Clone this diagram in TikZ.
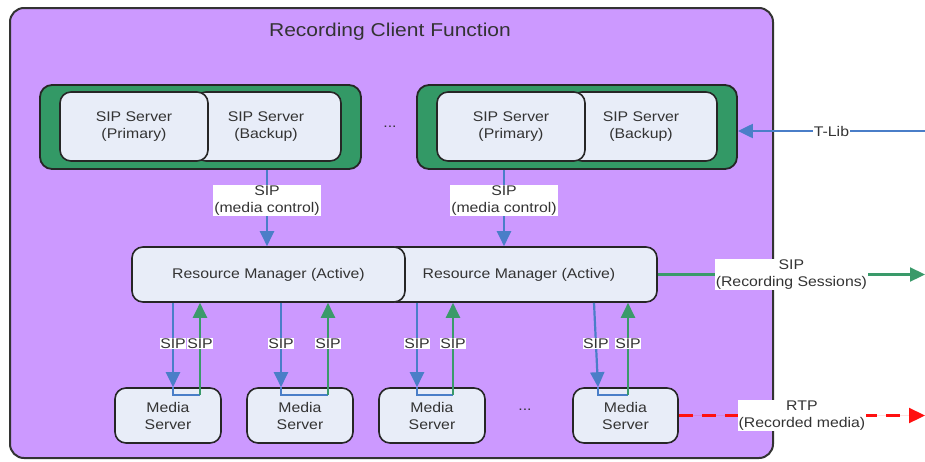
\documentclass[tikz,border=0pt]{standalone}
\usepackage{fontspec}
\setmainfont{Liberation Sans}[FakeStretch=1.13]
\usetikzlibrary{arrows.meta}
\definecolor{purp}{HTML}{CC99FF}
\definecolor{grp}{HTML}{339966}
\definecolor{boxf}{HTML}{E8EDF8}
\definecolor{bl}{HTML}{4A7EC8}
\definecolor{gr}{HTML}{3A9A6A}
\definecolor{rtpred}{HTML}{FF1010}
\definecolor{txt}{HTML}{333333}
\begin{document}
\begin{tikzpicture}[x=1pt,y=-1pt,
  every node/.style={font=\fontsize{14}{17}\selectfont, text=txt},
  outer/.style={draw=black!80, line width=2pt, fill=purp, rounded corners=14pt, inner sep=0pt},
  grpbox/.style={draw=black!85, line width=1.8pt, fill=grp, rounded corners=12pt, inner sep=0pt},
  srv/.style={draw=black!85, line width=1.6pt, fill=boxf, rounded corners=11pt, align=center, inner sep=0pt},
  lbl/.style={fill=white, inner sep=1pt, align=center},
  tipb/.style={-{Triangle[length=15pt,width=14pt]}},
  blline/.style={draw=bl, line width=2.2pt},
  grline/.style={draw=gr, line width=2.2pt},
  blarrow/.style={blline, tipb},
  grarrow/.style={grline, tipb},
  rtparrow/.style={draw=rtpred, fill=rtpred, line width=2.2pt, dash pattern=on 14pt off 9pt, -{Triangle[length=16pt,width=15pt]}}
]
\useasboundingbox (0,0) rectangle (925,461);

% outer function box
\node[outer, minimum width=763pt, minimum height=450pt] (rcf) at (391.5,233) {};
\node[font=\fontsize{18.6}{20}\selectfont] (title) at (390,32) {Recording Client Function};

% SIP server groups
\node[grpbox, minimum width=321pt, minimum height=84pt] (g1) at (200.5,127) {};
\node[srv, minimum width=146pt, minimum height=69pt] (bk1) at (268,126.5) {};
\node (bk1t) at (266,126.5) {\begin{tabular}{@{}c@{}}SIP Server\\(Backup)\end{tabular}};
\node[srv, minimum width=148pt, minimum height=69pt] (pr1) at (134,126.5) {SIP Server\\(Primary)};

\node (dots1) at (390,127) {...};

\node[grpbox, minimum width=320pt, minimum height=84pt] (g2) at (577,127) {};
\node[srv, minimum width=146pt, minimum height=69pt] (bk2) at (644,126.5) {};
\node (bk2t) at (641,126.5) {\begin{tabular}{@{}c@{}}SIP Server\\(Backup)\end{tabular}};
\node[srv, minimum width=148pt, minimum height=69pt] (pr2) at (511,126.5) {SIP Server\\(Primary)};

% resource managers
\node[srv, minimum width=272pt, minimum height=55pt] (rm2) at (521,274.5) {};
\node (rm2t) at (519,274.5) {Resource Manager (Active)};
\node[srv, minimum width=273pt, minimum height=55pt] (rm1) at (268.5,274.5) {Resource Manager (Active)};

% media servers
\node[srv, minimum width=106pt, minimum height=55pt] (ms1) at (168,415.5) {Media\\Server};
\node[srv, minimum width=106pt, minimum height=55pt] (ms2) at (300,415.5) {Media\\Server};
\node[srv, minimum width=106pt, minimum height=55pt] (ms3) at (432,415.5) {Media\\Server};
\node (dots2) at (525,410) {...};
\node[srv, minimum width=105pt, minimum height=55pt] (ms4) at (625.5,415.5) {Media\\Server};

% coordinates
\coordinate (x1) at (267,0);
\coordinate (x2) at (504,0);
\coordinate (tl) at (925,131);
\coordinate (rs) at (925,274.5);
\coordinate (rtp) at (925,415.5);
\coordinate (b1) at (173,0); \coordinate (g1x) at (200,0);
\coordinate (b2) at (281,0); \coordinate (g2x) at (328,0);
\coordinate (b3) at (417,0); \coordinate (g3x) at (453,0);
\coordinate (b4) at (594,0); \coordinate (b4e) at (598,0); \coordinate (g4x) at (628,0);
\coordinate (u1a) at (173,395); \coordinate (u1b) at (200,395);
\coordinate (u2a) at (281,395); \coordinate (u2b) at (328,395);
\coordinate (u3a) at (417,395); \coordinate (u3b) at (453,395);
\coordinate (u4a) at (598,395); \coordinate (u4b) at (628,395);

% T-Lib
\draw[blarrow] (tl) -- node[lbl] {T-Lib} (tl -| g2.east);

% media control
\draw[blarrow] (g1.south -| x1) -- node[lbl, pos=0.4] {SIP\\(media control)} (rm1.north -| x1);
\draw[blarrow] (g2.south -| x2) -- node[lbl, pos=0.4] {SIP\\(media control)} (rm2.north -| x2);

% recording sessions
\draw[grarrow] (rm2.east) -- node[lbl, pos=0.5] {SIP\\(Recording Sessions)} (rs);

% RTP
\draw[rtparrow] (ms4.east) -- node[lbl, pos=0.5] {RTP\\(Recorded media)} (rtp);

% RM <-> MS links
\draw[blarrow] (rm1.south -| b1) -- node[lbl, inner sep=0.5pt, pos=0.48] {SIP} (ms1.north -| b1);
\draw[blline] (ms1.north -| b1) -- (u1a) -- (u1b);
\draw[grarrow] (u1b) -- node[lbl, inner sep=0.5pt, pos=0.56] {SIP} (rm1.south -| g1x);

\draw[blarrow] (rm1.south -| b2) -- node[lbl, inner sep=0.5pt, pos=0.48] {SIP} (ms2.north -| b2);
\draw[blline] (ms2.north -| b2) -- (u2a) -- (u2b);
\draw[grarrow] (u2b) -- node[lbl, inner sep=0.5pt, pos=0.56] {SIP} (rm1.south -| g2x);

\draw[blarrow] (rm2.south -| b3) -- node[lbl, inner sep=0.5pt, pos=0.48] {SIP} (ms3.north -| b3);
\draw[blline] (ms3.north -| b3) -- (u3a) -- (u3b);
\draw[grarrow] (u3b) -- node[lbl, inner sep=0.5pt, pos=0.56] {SIP} (rm2.south -| g3x);

\draw[blarrow] (rm2.south -| b4) -- node[lbl, inner sep=0.5pt, pos=0.48] {SIP} (ms4.north -| b4e);
\draw[blline] (ms4.north -| b4e) -- (u4a) -- (u4b);
\draw[grarrow] (u4b) -- node[lbl, inner sep=0.5pt, pos=0.56] {SIP} (rm2.south -| g4x);
\end{tikzpicture}
\end{document}
